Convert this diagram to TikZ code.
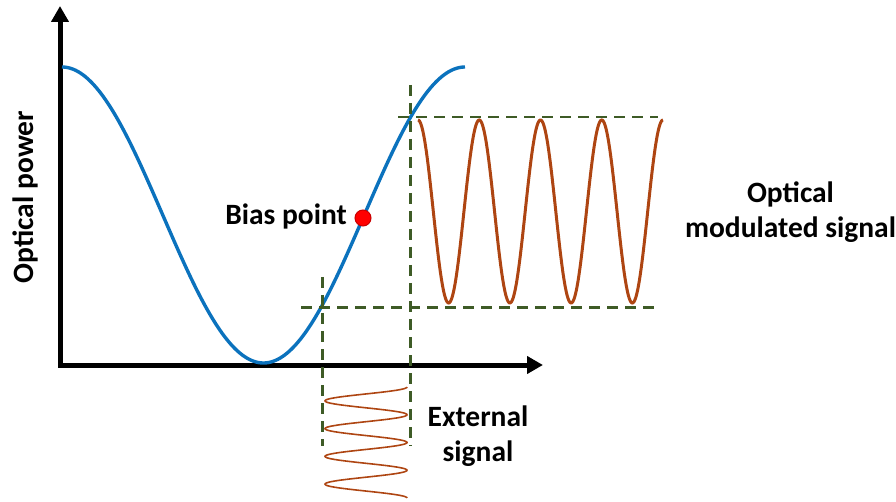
\documentclass[tikz,border=0pt]{standalone}
\usepackage{fontspec}
\setmainfont{Carlito}
\usetikzlibrary{arrows.meta}
\definecolor{curveblue}{HTML}{0B72BD}
\definecolor{sigbrown}{HTML}{AE4512}
\definecolor{guidegreen}{HTML}{3E5B26}
\definecolor{dotred}{HTML}{FF0000}
\definecolor{dotedge}{HTML}{C80000}
\tikzset{
  axisline/.style={line width=5pt, black, line join=miter,
    {Triangle[length=16pt,width=17pt]}-{Triangle[length=16pt,width=17pt]}},
  guide/.style={guidegreen, line width=2.2pt, dash pattern=on 11pt off 7pt},
  bluecurve/.style={curveblue, line width=3.4pt},
  outsig/.style={sigbrown, line width=3pt},
  extsig/.style={sigbrown, line width=1.6pt},
  lbl/.style={font=\fontsize{29.5}{35}\selectfont\bfseries, inner sep=0pt, align=center},
}
\begin{document}
\begin{tikzpicture}[x=1pt,y=-1pt]
\useasboundingbox (0,0) rectangle (896,502);
% axes
\coordinate (ytip) at (60,6);
\coordinate (orig) at (60,365);
\coordinate (xtip) at (543,365);
\draw[axisline] (ytip) -- (orig) -- (xtip);
% transfer curve
\draw[bluecurve] plot[domain=62:465, samples=240] (\x, {215-148*cos(0.893300*(\x-62))});
% guide lines
\coordinate (vLtop) at (322.5,277);
\coordinate (vLbot) at (322.5,446);
\coordinate (vRtop) at (410.5,85);
\coordinate (vRbot) at (410.5,446);
\coordinate (hTl) at (398,117);
\coordinate (hTr) at (658,117);
\coordinate (hBl) at (301,307.5);
\coordinate (hBr) at (661,307.5);
\draw[guide] (vLtop) -- (vLbot);
\draw[guide] (vRtop) -- (vRbot);
\draw[guide] (hTl) -- (hTr);
\draw[guide] (hBl) -- (hBr);
% modulated optical output
\draw[outsig] plot[domain=418:663, samples=320] (\x, {211.5-91.5*cos(5.877551*(\x-418))});
% external signal
\draw[extsig] plot[domain=387:498, samples=320] ({366+41*cos(12.972973*(\x-387))}, \x);
% bias point
\node[circle, fill=dotred, draw=dotedge, line width=1pt, minimum size=16pt, inner sep=0pt] (biasdot) at (363,218) {};
% labels
\node[lbl, anchor=base, rotate=90] (ylabel) at (33,197) {Optical power};
\node[lbl, anchor=base east] (biaslbl) at (347,225) {Bias point};
\node[lbl] (optlbl) at (790.5,212) {Optical\\modulated signal};
\node[lbl] (extlbl) at (478,436) {External\\signal};
\end{tikzpicture}
\end{document}
